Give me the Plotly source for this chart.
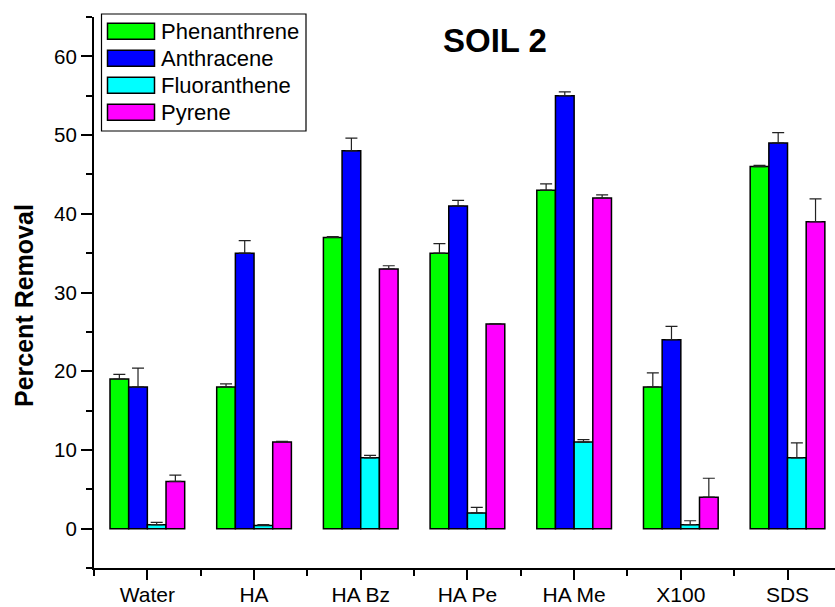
import plotly.graph_objects as go

categories = ["Water", "HA", "HA Bz", "HA Pe", "HA Me", "X100", "SDS"]
series_names = ["Phenanthrene", "Anthracene", "Fluoranthene", "Pyrene"]
phenanthrene = [19, 18, 37, 35, 43, 18, 46]
phenanthrene_err = [0.6, 0.4, 0.1, 1.2, 0.8, 1.8, 0.15]
anthracene = [18, 35, 48, 41, 55, 24, 49]
anthracene_err = [2.4, 1.6, 1.6, 0.7, 0.5, 1.7, 1.3]
fluoranthene = [0.5, 0.4, 9, 2, 11, 0.5, 9]
fluoranthene_err = [0.3, 0.1, 0.3, 0.7, 0.3, 0.5, 1.9]
pyrene = [6, 11, 33, 26, 42, 4, 39]
pyrene_err = [0.8, 0.1, 0.4, 0.05, 0.4, 2.4, 2.9]
colors = ["#00FF00", "#0000FF", "#00FFFF", "#FF00FF"]
y_ticks = [0, 10, 20, 30, 40, 50, 60]

values = [phenanthrene, anthracene, fluoranthene, pyrene]
errors = [phenanthrene_err, anthracene_err, fluoranthene_err, pyrene_err]
xs = list(range(len(categories)))

FONT = "Arial, Liberation Sans, sans-serif"
W, H = 835, 607
ML, MR, MT, MB = 94, 0, 17, 39
PW, PH = W - ML - MR, H - MT - MB

def px_x(p):
    return (p - ML) / PW

def px_y(p):
    return (H - MB - p) / PH

fig = go.Figure()
for name, vals, errs, col in zip(series_names, values, errors, colors):
    fig.add_trace(go.Bar(
        x=xs, y=vals, name=name,
        marker=dict(color=col, line=dict(color="black", width=1.5)),
        error_y=dict(type="data", array=errs, arrayminus=[0] * len(errs),
                     symmetric=False, color="#222222", thickness=1.2, width=6),
        showlegend=False,
    ))

# custom legend (box + swatches + labels)
shapes = [dict(type="rect", xref="paper", yref="paper",
               x0=px_x(101.5), x1=px_x(306), y0=px_y(131), y1=px_y(14),
               line=dict(color="black", width=1.2), fillcolor="white", layer="above")]
annotations = []
for i, (name, col) in enumerate(zip(series_names, colors)):
    cy = 31.3 + 27 * i
    shapes.append(dict(type="rect", xref="paper", yref="paper",
                       x0=px_x(107.5), x1=px_x(154.5), y0=px_y(cy + 8), y1=px_y(cy - 8),
                       line=dict(color="black", width=1.5), fillcolor=col, layer="above"))
    annotations.append(dict(xref="paper", yref="paper", x=px_x(159), y=px_y(cy),
                            xanchor="left", yanchor="middle", showarrow=False,
                            text=name, font=dict(family=FONT, size=22, color="black")))

annotations.append(dict(xref="paper", yref="paper", x=px_x(495), y=px_y(40),
                        xanchor="center", yanchor="middle", showarrow=False,
                        text="<b>SOIL 2</b>", font=dict(family=FONT, size=33, color="black")))
annotations.append(dict(xref="paper", yref="paper", x=px_x(24), y=px_y(306),
                        xanchor="center", yanchor="middle", showarrow=False, textangle=-90,
                        text="<b>Percent Removal</b>", font=dict(family=FONT, size=25, color="black")))

fig.update_layout(
    width=W, height=H,
    margin=dict(l=ML, r=MR, t=MT, b=MB, pad=0, autoexpand=False),
    paper_bgcolor="white", plot_bgcolor="white",
    barmode="group", bargap=0.3, bargroupgap=0,
    shapes=shapes, annotations=annotations,
    font=dict(family=FONT, color="black"),
    xaxis=dict(
        range=[-0.5, 6.445], tickmode="array", tickvals=xs, ticktext=categories,
        automargin=False, ticklabelstandoff=-3,
        showgrid=False, zeroline=False, showline=True, linecolor="black", linewidth=2,
        ticks="outside", ticklen=10, tickwidth=2, tickcolor="black",
        tickfont=dict(family=FONT, size=21, color="black"),
        minor=dict(tickvals=[x - 0.5 for x in xs], ticks="outside", ticklen=6,
                   tickwidth=2, tickcolor="black", showgrid=False),
    ),
    yaxis=dict(
        range=[-5, 65], tickmode="array", tickvals=y_ticks,
        automargin=False,
        showgrid=False, zeroline=False, showline=True, linecolor="black", linewidth=2,
        ticks="outside", ticklen=11, tickwidth=2, tickcolor="black",
        tickfont=dict(family=FONT, size=20.5, color="black"),
        minor=dict(tickvals=[t + 5 for t in y_ticks] + [-5], ticks="outside", ticklen=6,
                   tickwidth=2, tickcolor="black", showgrid=False),
    ),
)

fig.write_html("out.html", config={"displayModeBar": False},
               post_script="document.body.style.margin='0';document.body.style.overflow='hidden';")
